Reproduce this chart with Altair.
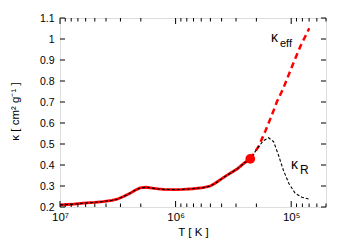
import altair as alt
import pandas as pd

# Rosseland mean opacity (black dotted) — temperature in K, kappa in cm^2/g
T_R = [1.0e7, 7.94e6, 6.31e6, 5.01e6, 4.25e6, 3.55e6, 3.21e6, 2.82e6, 2.48e6,
       2.24e6, 2.03e6, 1.80e6, 1.60e6, 1.41e6, 1.28e6, 1.0e6, 8.61e5, 7.08e5,
       5.78e5, 5.01e5, 4.55e5, 3.98e5, 3.58e5, 3.16e5, 2.94e5, 2.51e5, 2.26e5,
       1.92e5, 1.74e5, 1.57e5, 1.42e5, 1.29e5, 1.17e5, 1.05e5, 9.23e4, 8.07e4,
       7.08e4]
kappa_R = [0.210, 0.213, 0.218, 0.222, 0.226, 0.232, 0.237, 0.250, 0.265,
           0.280, 0.291, 0.294, 0.290, 0.286, 0.284, 0.283, 0.284, 0.287,
           0.292, 0.300, 0.313, 0.335, 0.352, 0.370, 0.381, 0.412, 0.429,
           0.487, 0.515, 0.530, 0.511, 0.448, 0.376, 0.313, 0.265, 0.246,
           0.238]

# Effective opacity (red dashed) beyond the marked point
T_eff = [2.26e5, 1.92e5, 1.68e5, 1.47e5, 1.33e5, 1.17e5, 9.86e4, 8.36e4, 6.98e4]
kappa_eff = [0.429, 0.487, 0.559, 0.638, 0.701, 0.765, 0.868, 0.963, 1.051]

T_dot = [2.26e5]
kappa_dot = [0.429]

x_major = [1e7, 1e6, 1e5]
x_minor = [k * 10.0 ** n for n in (4, 5, 6) for k in range(2, 10)
           if 5e4 <= k * 10.0 ** n <= 1e7]
y_ticks = [0.2, 0.3, 0.4, 0.5, 0.6, 0.7, 0.8, 0.9, 1.0, 1.1]

W, H = 266, 189
FONT = "Liberation Sans"

df_R = pd.DataFrame({"T": T_R, "k": kappa_R})
df_solid = df_R[df_R["T"] >= T_dot[0]]
df_eff = pd.DataFrame({"T": T_eff, "k": kappa_eff})
df_dot = pd.DataFrame({"T": T_dot, "k": kappa_dot})
df_xmaj = pd.DataFrame({"T": x_major})
df_xmin = pd.DataFrame({"T": x_minor})
df_y = pd.DataFrame({"k": y_ticks})

xscale = alt.Scale(type="log", domain=[5e4, 1e7], reverse=True, nice=False)
yscale = alt.Scale(domain=[0.2, 1.1], nice=False, zero=False)

xaxis = alt.Axis(values=x_major, tickSize=0, domain=False, grid=False,
                 labelExpr="datum.value >= 5e6 ? '10⁷' : (datum.value >= 5e5 ? '10⁶' : '10⁵')",
                 labelPadding=4, labelFontSize=11.5, labelFont=FONT,
                 title="T [ K ]", titleFontSize=11.5, titleFont=FONT,
                 titleFontWeight="normal", titlePadding=4, labelColor="black",
                 titleColor="black", labelFlush=False)
yaxis = alt.Axis(values=y_ticks, tickSize=0, domain=False, grid=False,
                 format=".1~f", labelPadding=6, labelFontSize=10.5, labelFont=FONT,
                 title="κ [ cm² g⁻¹ ]", titleFontSize=11.5, titleFont=FONT,
                 titleFontWeight="normal", titleAngle=270, titleX=-45, titleY=93,
                 titleAlign="center", titleBaseline="middle", labelColor="black",
                 titleColor="black", labelFlush=False)


def X():
    return alt.X("T:Q", scale=xscale, axis=xaxis)


def Y():
    return alt.Y("k:Q", scale=yscale, axis=yaxis)


solid = alt.Chart(df_solid).mark_line(color="#ff0000", strokeWidth=2.8, clip=True).encode(
    x=X(), y=Y(), order="T:Q")
eff = alt.Chart(df_eff).mark_line(color="#ff0000", strokeWidth=2.5,
                                  strokeDash=[6, 4], clip=True).encode(
    x=X(), y=Y(), order=alt.Order("T:Q", sort="descending"))
rline = alt.Chart(df_R).mark_line(color="black", strokeWidth=1.1,
                                  strokeDash=[3, 2], clip=True).encode(
    x=X(), y=Y(), order=alt.Order("T:Q", sort="descending"))
dot = alt.Chart(df_dot).mark_circle(color="#ff0000", size=95, opacity=1).encode(
    x=X(), y=Y())

tick_style = dict(color="black", strokeWidth=1)
xmaj_b = alt.Chart(df_xmaj).mark_rule(**tick_style).encode(
    x=X(), y=alt.value(H), y2=alt.value(H - 6))
xmaj_t = alt.Chart(df_xmaj).mark_rule(**tick_style).encode(
    x=X(), y=alt.value(0), y2=alt.value(6))
xmin_b = alt.Chart(df_xmin).mark_rule(**tick_style).encode(
    x=X(), y=alt.value(H), y2=alt.value(H - 3.5))
xmin_t = alt.Chart(df_xmin).mark_rule(**tick_style).encode(
    x=X(), y=alt.value(0), y2=alt.value(3.5))
y_l = alt.Chart(df_y).mark_rule(**tick_style).encode(
    y=Y(), x=alt.value(0), x2=alt.value(5))
y_r = alt.Chart(df_y).mark_rule(**tick_style).encode(
    y=Y(), x=alt.value(W), x2=alt.value(W - 5))

lab_keff1 = alt.Chart(pd.DataFrame({"t": ["κ"]})).mark_text(
    align="left", baseline="alphabetic", font=FONT, fontSize=14, color="black").encode(
    text="t:N", x=alt.value(211), y=alt.value(24))
lab_keff2 = alt.Chart(pd.DataFrame({"t": ["eff"]})).mark_text(
    align="left", baseline="alphabetic", font=FONT, fontSize=11, color="black").encode(
    text="t:N", x=alt.value(220), y=alt.value(28.5))
lab_kR1 = alt.Chart(pd.DataFrame({"t": ["κ"]})).mark_text(
    align="left", baseline="alphabetic", font=FONT, fontSize=14, color="black").encode(
    text="t:N", x=alt.value(231), y=alt.value(150.5))
lab_kR2 = alt.Chart(pd.DataFrame({"t": ["R"]})).mark_text(
    align="left", baseline="alphabetic", font=FONT, fontSize=12, color="black").encode(
    text="t:N", x=alt.value(240), y=alt.value(156))

chart = alt.layer(
    solid, eff, rline, dot, xmaj_b, xmaj_t, xmin_b, xmin_t, y_l, y_r,
    lab_keff1, lab_keff2, lab_kR1, lab_kR2
).properties(
    width=W, height=H,
    autosize=alt.AutoSizeParams(type="none"),
    padding={"left": 52, "top": 10, "right": 17, "bottom": 33},
).configure_view(stroke="black", strokeWidth=1).configure(background="white")

chart.save("out.html", embed_options={"renderer": "svg", "actions": False})
